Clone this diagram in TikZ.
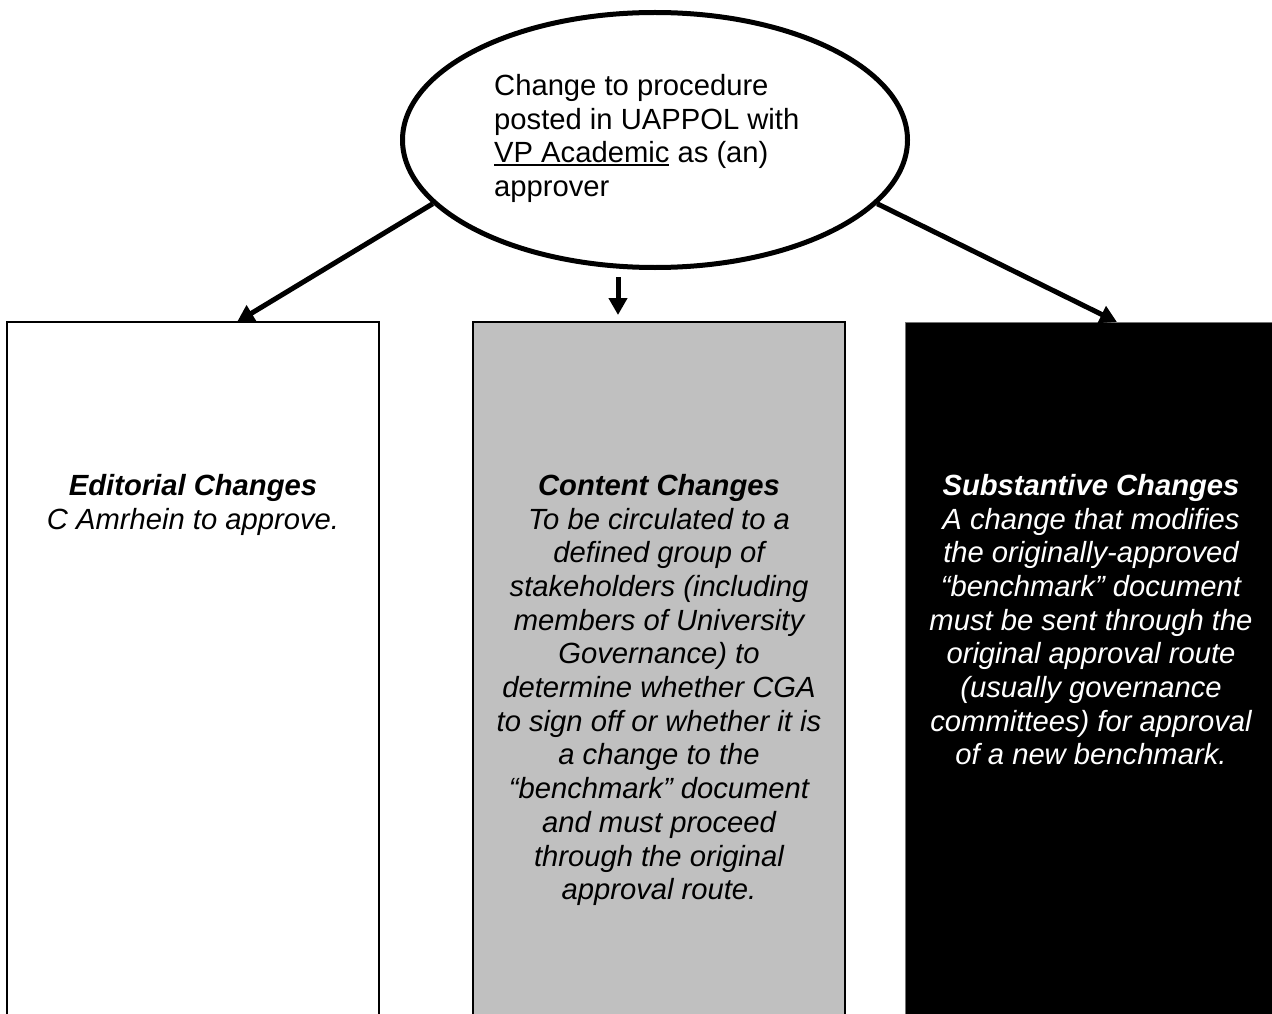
\documentclass[tikz,border=0pt]{standalone}
\usepackage{fontspec}
\setmainfont{Liberation Sans}
\usetikzlibrary{shapes.geometric,arrows.meta,positioning}
\definecolor{boxgray}{HTML}{C0C0C0}
\newcommand{\undl}[1]{\setbox0\hbox{#1}\rlap{\rule[-3.5pt]{\wd0}{2.4pt}}\box0\relax}

\begin{document}
\begin{tikzpicture}[x=1pt,y=-1pt,
	every node/.style={font=\fontsize{29.2}{33.7}\selectfont},
	proc/.style={ellipse, draw, line width=5pt, minimum width=505pt, minimum height=255pt, inner sep=0pt},
	changebox/.style={rectangle, draw, line width=2pt, minimum width=372pt, minimum height=730pt, anchor=north west, outer sep=0pt, inner sep=0pt},
	boxtext/.style={align=center, inner sep=0pt, font=\fontsize{29.2}{33.7}\selectfont\itshape},
	arr/.style={line width=5pt, -{Triangle[width=18pt,length=17pt]}}]
\useasboundingbox (0,0) rectangle (1272,1014);
\clip (0,0) rectangle (1272,1014);
	%ellipse
	\node[proc] (proc) at (655,140) {};
	\node[anchor=north west, inner sep=0pt, align=left] (proctext) at (494,74)
		{Change to procedure\\posted in UAPPOL with\\\undl{VP Academic} as (an)\\approver};
	%boxes
	\node[changebox] (edit) at (7,322) {};
	\node[changebox, fill=boxgray] (content) at (473,322) {};
	\node[changebox, fill=black, draw=black!55, line width=1pt] (subst) at (905,322) {};
%texts
\node[boxtext, below=152pt of edit.north] (edittext)
	{\textbf{Editorial Changes}\\C Amrhein to approve.};
\node[boxtext, below=152pt of content.north] (contenttext)
	{\textbf{Content Changes}\\To be circulated to a\\defined group of\\stakeholders (including\\members of University\\Governance) to\\determine whether CGA\\to sign off or whether it is\\a change to the\\“benchmark” document\\and must proceed\\through the original\\approval route.};
\node[boxtext, text=white, below=152pt of subst.north] (substtext)
	{\textbf{Substantive Changes}\\A change that modifies\\the originally-approved\\“benchmark” document\\must be sent through the\\original approval route\\(usually governance\\committees) for approval\\of a new benchmark.};
%arrows
\draw[arr] (proc.196) -- ([xshift=44pt]edit.north);
\draw[arr] ([xshift=-37pt,yshift=-7pt]proc.south) -- ([xshift=-41pt,yshift=7pt]content.north);
\draw[arr] (proc.344) -- ([xshift=26pt]subst.north);
\end{tikzpicture}
\end{document}
